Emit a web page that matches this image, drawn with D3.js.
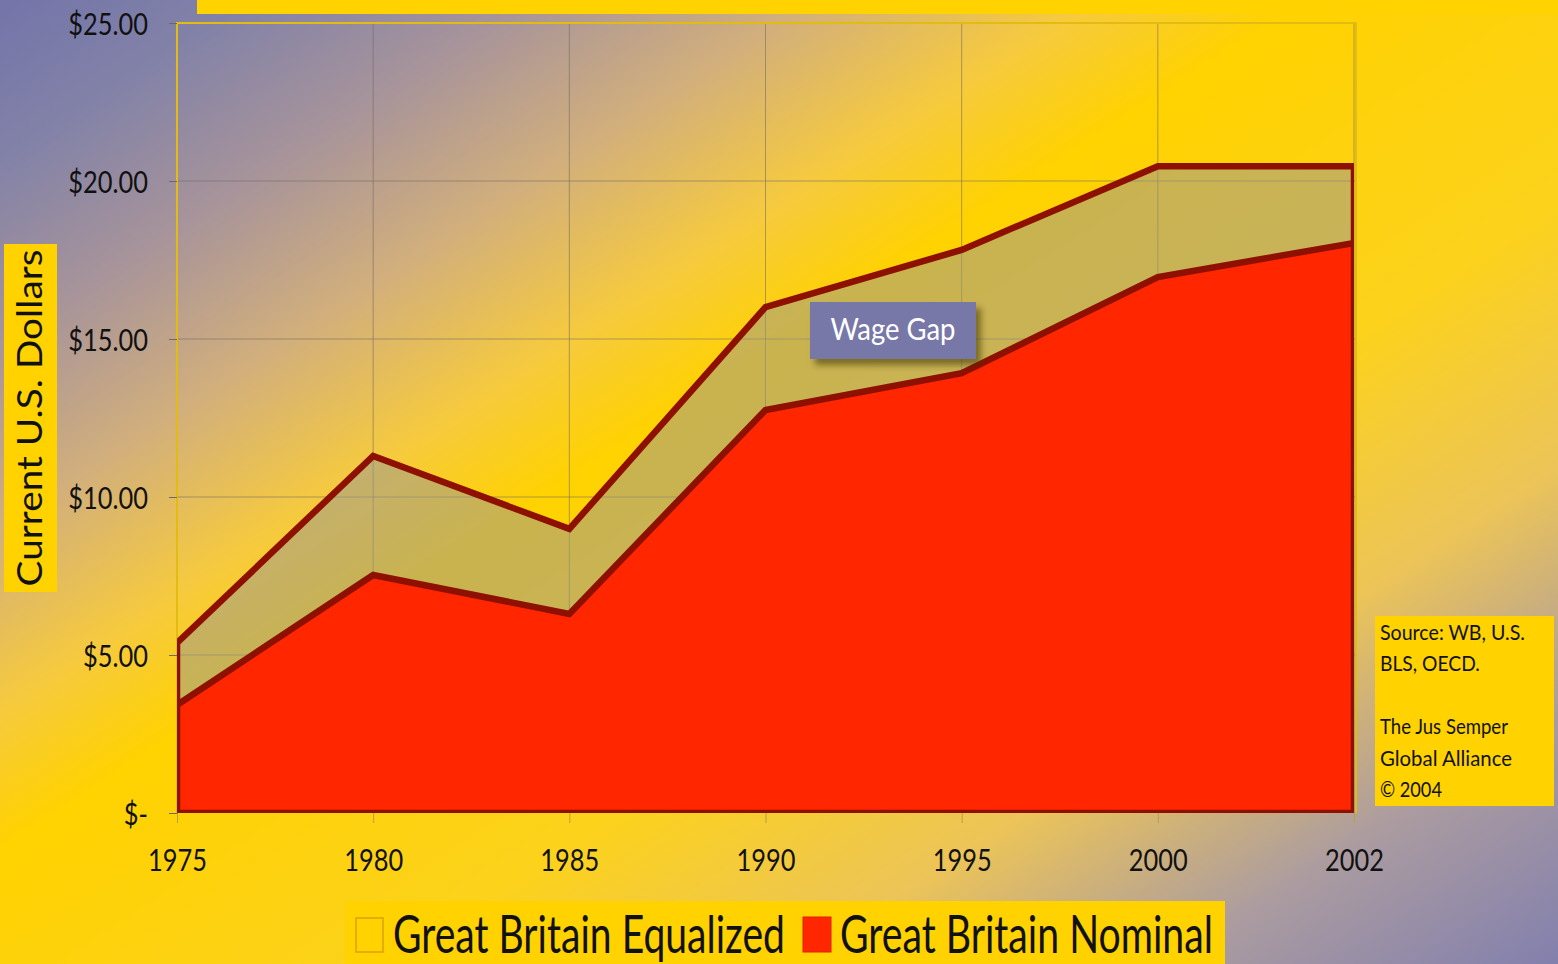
<!DOCTYPE html>
<html>
<head>
<meta charset="utf-8">
<script src="https://cdn.jsdelivr.net/npm/d3@7"></script>
<style>
  html, body { margin: 0; padding: 0; background: #FFD200; }
  svg { display: block; }
</style>
</head>
<body>
<script>
// ---------- data ----------
const years = ["1975", "1980", "1985", "1990", "1995", "2000", "2002"];
const equalized = [5.38, 11.30, 8.99, 16.01, 17.82, 20.47, 20.47];
const nominal = [3.42, 7.53, 6.30, 12.75, 13.92, 16.96, 18.04];
const yTickValues = [0, 5, 10, 15, 20, 25];
const yTickLabels = ["$-", "$5.00", "$10.00", "$15.00", "$20.00", "$25.00"];
const seriesNames = ["Great Britain Equalized", "Great Britain Nominal"];
const sourceLines = ["Source: WB, U.S.", "BLS, OECD.", "", "The Jus Semper", "Global Alliance", "\u00A9 2004"];
const yTitle = "Current U.S. Dollars";
const gapLabel = "Wage Gap";

// ---------- setup ----------
const W = 1558, H = 964;
const svg = d3.select("body").append("svg").attr("width", W).attr("height", H);
const defs = svg.append("defs");

const FONT = "Lato, 'Open Sans', sans-serif";

// horizontally condense a text element to a given width (or factor) via a transform
function condense(node, target, isFactor) {
  const w = node.getComputedTextLength();
  const s = isFactor ? target : target / w;
  const sel = d3.select(node);
  const x0 = +sel.attr("x") || 0;
  sel.attr("x", x0 / s);
  const prev = sel.attr("transform") || "";
  sel.attr("transform", (prev ? prev + " " : "") + `scale(${s},1)`);
}

// background gradient
const bg = defs.append("linearGradient").attr("id", "bg")
  .attr("gradientUnits", "userSpaceOnUse")
  .attr("x1", 0).attr("y1", 0).attr("x2", 926).attr("y2", 1425);
[[0, "#7474AA"], [0.08, "#8282A8"], [0.17, "#A8949A"], [0.26, "#D2AF7C"], [0.35, "#F6CA3E"], [0.42, "#FFD200"],
 [0.60, "#FCD21C"], [0.73, "#ECC458"], [0.85, "#AC9CA0"], [1, "#7A7AB0"]]
  .forEach(([o, c]) => bg.append("stop").attr("offset", o).attr("stop-color", c));

svg.append("rect").attr("width", W).attr("height", H).attr("fill", "url(#bg)");

// top yellow bar
svg.append("rect").attr("x", 197).attr("y", 0).attr("width", W - 197).attr("height", 14).attr("fill", "#FFD200");

// ---------- scales ----------
const pL = 177, pR = 1354, pT = 23, pB = 813;
const x = d3.scalePoint().domain(years).range([pL, pR]);
const y = d3.scaleLinear().domain([0, 25]).range([pB, pT]);

// gridlines
const grid = svg.append("g");
grid.selectAll("line.h").data(yTickValues.filter(v => v > 0 && v < 25)).join("line")
  .attr("x1", pL).attr("x2", pR + 3)
  .attr("y1", d => y(d)).attr("y2", d => y(d))
  .attr("stroke", "#6e6a60").attr("stroke-opacity", 0.55).attr("stroke-width", 1);
grid.selectAll("line.v").data(years.slice(1)).join("line")
  .attr("x1", d => x(d)).attr("x2", d => x(d))
  .attr("y1", pT).attr("y2", pB)
  .attr("stroke", "#6e6a60").attr("stroke-opacity", 0.55).attr("stroke-width", 1);

// plot border (gold)
svg.append("path")
  .attr("d", `M${pL},${pB}V${pT}H${pR + 2}V${pB}`)
  .attr("fill", "none").attr("stroke", "#E2BC10").attr("stroke-width", 2);

// ---------- areas ----------
defs.append("clipPath").attr("id", "clip").append("rect")
  .attr("x", pL).attr("y", pT).attr("width", pR - pL).attr("height", pB - pT);

const area = d3.area().x((d, i) => x(years[i])).y0(y(0)).y1(d => y(d));
const plot = svg.append("g").attr("clip-path", "url(#clip)");

plot.append("path").datum(equalized).attr("d", d => area(d) + "Z")
  .attr("fill", "#979797").attr("fill-opacity", 0.52)
  .attr("stroke", "#8E1000").attr("stroke-width", 6.5).attr("stroke-linejoin", "miter");

plot.append("path").datum(nominal).attr("d", d => area(d) + "Z")
  .attr("fill", "#FF2600")
  .attr("stroke", "#8E1000").attr("stroke-width", 6.5).attr("stroke-linejoin", "miter");

// ---------- axes ----------
const yAxis = svg.append("g").attr("transform", `translate(${pL},0)`)
  .call(d3.axisLeft(y).tickValues(yTickValues).tickFormat((d, i) => yTickLabels[i]).tickSize(8).tickPadding(21));
yAxis.select(".domain").remove();
yAxis.selectAll(".tick line").attr("stroke", "#6e6a60");
yAxis.selectAll(".tick text")
  .attr("font-family", FONT).attr("font-size", 31).attr("fill", "#111")
  .attr("dy", "0.36em")
  .each(function () { condense(this, 0.82, true); });

const xAxis = svg.append("g").attr("transform", `translate(0,${pB})`)
  .call(d3.axisBottom(x).tickSize(10));
xAxis.select(".domain").remove();
xAxis.selectAll(".tick line").attr("stroke", "#B8A040");
xAxis.selectAll(".tick text")
  .attr("font-family", FONT).attr("font-size", 31).attr("fill", "#111")
  .attr("y", 58).attr("dy", 0)
  .each(function () { condense(this, 0.82, true); });

// y-axis title box
svg.append("rect").attr("x", 4).attr("y", 244).attr("width", 53).attr("height", 348).attr("fill", "#FFD200");
const yt = svg.append("text")
  .attr("transform", "translate(42,418) rotate(-90)")
  .attr("text-anchor", "middle")
  .attr("font-family", FONT).attr("font-size", 35).attr("fill", "#111")
  .text(yTitle);
condense(yt.node(), 337);

// ---------- wage gap label ----------
const f = defs.append("filter").attr("id", "shadow").attr("x", "-20%").attr("y", "-30%").attr("width", "150%").attr("height", "180%");
f.append("feDropShadow").attr("dx", 5).attr("dy", 6).attr("stdDeviation", 3)
  .attr("flood-color", "#3a3000").attr("flood-opacity", 0.55);
svg.append("rect").attr("x", 810).attr("y", 302).attr("width", 166).attr("height", 57)
  .attr("fill", "#7878A8").attr("filter", "url(#shadow)");
const wg = svg.append("text").attr("x", 893).attr("y", 340).attr("text-anchor", "middle")
  .attr("font-family", FONT).attr("font-size", 31).attr("fill", "#fff").text(gapLabel);
condense(wg.node(), 125);

// ---------- source box ----------
svg.append("rect").attr("x", 1375).attr("y", 616).attr("width", 179).attr("height", 190).attr("fill", "#FFD200");
const srcWidths = [145, 100, 0, 128, 132, 62];
sourceLines.forEach((line, i) => {
  if (!line) return;
  const t = svg.append("text").attr("x", 1380).attr("y", 640 + i * 31.5)
    .attr("font-family", FONT).attr("font-size", 22).attr("fill", "#111").text(line);
  condense(t.node(), srcWidths[i]);
});

// ---------- legend ----------
svg.append("rect").attr("x", 345).attr("y", 901).attr("width", 880).attr("height", 63).attr("fill", "#FFD200");
svg.append("rect").attr("x", 356).attr("y", 918).attr("width", 27).attr("height", 34)
  .attr("fill", "none").attr("stroke", "#E0A000").attr("stroke-width", 1.5);
svg.append("rect").attr("x", 803).attr("y", 917).attr("width", 28).attr("height", 35)
  .attr("fill", "#FF2600").attr("stroke", "#E02000").attr("stroke-width", 1);
const l1 = svg.append("text").attr("x", 393).attr("y", 953)
  .attr("font-family", FONT).attr("font-size", 52).attr("fill", "#111").text(seriesNames[0]);
condense(l1.node(), 392);
const l2 = svg.append("text").attr("x", 840).attr("y", 953)
  .attr("font-family", FONT).attr("font-size", 52).attr("fill", "#111").text(seriesNames[1]);
condense(l2.node(), 373);
</script>
</body>
</html>
